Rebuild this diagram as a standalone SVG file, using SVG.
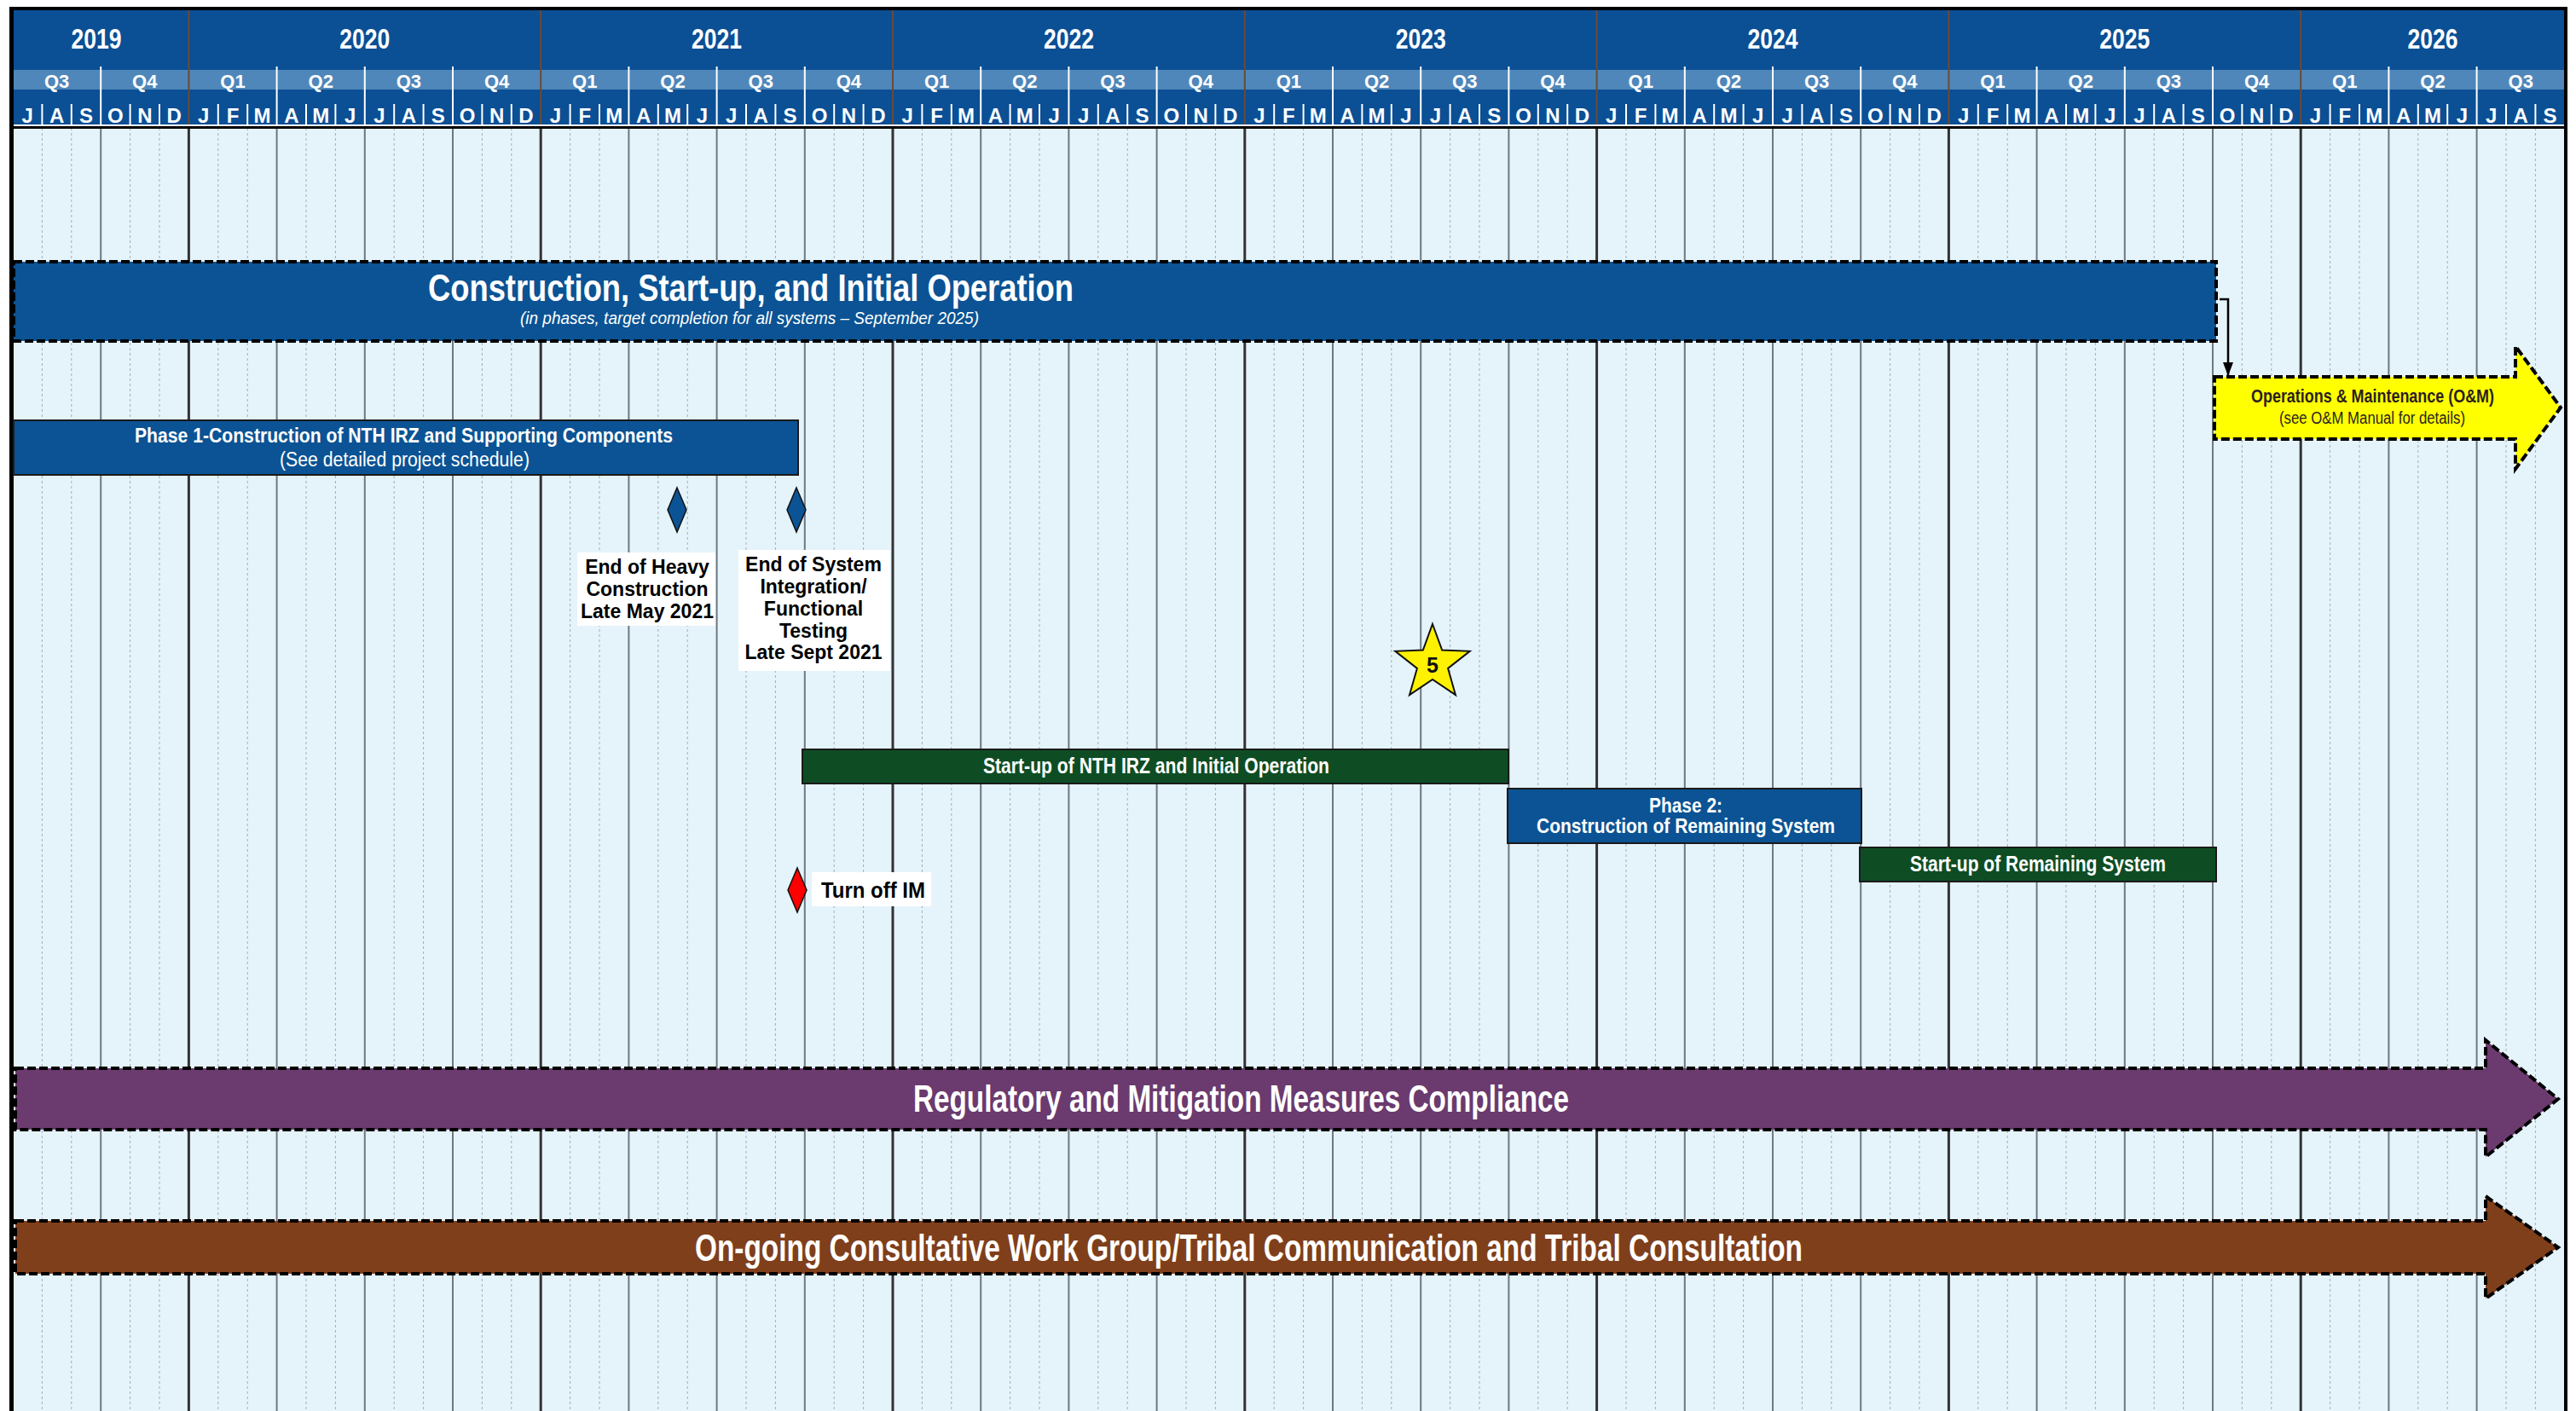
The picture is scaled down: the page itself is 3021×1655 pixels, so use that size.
<svg xmlns="http://www.w3.org/2000/svg" width="3021" height="1655" viewBox="0 0 3021 1655">
<defs>
<style>
.hdr{font-family:"Liberation Sans Narrow","Arial Narrow","Liberation Sans",Arial,sans-serif;font-weight:bold;fill:#fff;text-anchor:middle}
.yr{font-size:33px}
.qt{font-size:22px}
.mo{font-size:24px}
.nar{font-family:"Liberation Sans Narrow","Arial Narrow","Liberation Sans",Arial,sans-serif;text-anchor:middle}
.b{font-weight:bold}
.w{fill:#fff}
.lbl{font-family:"Liberation Sans",Arial,sans-serif;font-weight:bold;fill:#000;text-anchor:middle;font-size:23px}
.ml{stroke:#a3adb5;stroke-width:1;stroke-dasharray:3 3;fill:none}
.ql{stroke:#6f7880;stroke-width:2;fill:none}
.yl{stroke:#333;stroke-width:3;fill:none}
.hm{stroke:#fff;stroke-width:2;fill:none}
.hy{stroke:#6b4a35;stroke-width:2;fill:none}
.dash{stroke:#000;stroke-width:4;stroke-dasharray:10 4}
.bar{stroke:#1a1a1a;stroke-width:2}
.blue{fill:#0b5394}
.green{fill:#0e4d24}
</style>
<marker id="arr" viewBox="0 0 16 12" refX="16" refY="6" markerWidth="16" markerHeight="12" markerUnits="userSpaceOnUse" orient="auto">
<path d="M0 0 L16 6 L0 12 z" fill="#000"/>
</marker>
</defs>

<rect x="0" y="0" width="3021" height="1655" fill="#fff"/>
<!-- body background -->
<rect x="15" y="150" width="2993" height="1505" fill="#e5f3fb"/>

<!-- header -->
<g id="header">
<rect x="15" y="11" width="2993" height="135" fill="#0b4f95"/>
<rect x="15" y="82" width="2993" height="23" fill="#4f87ba"/>
<path class="hm" d="M49.4 122V146M83.8 122V146M152.6 122V146M187 122V146M255.8 122V146M290.2 122V146M359 122V146M393.4 122V146M462.2 122V146M496.6 122V146M565.4 122V146M599.8 122V146M668.6 122V146M703 122V146M771.8 122V146M806.2 122V146M875 122V146M909.4 122V146M978.2 122V146M1012.6 122V146M1081.4 122V146M1115.8 122V146M1184.6 122V146M1219 122V146M1287.8 122V146M1322.2 122V146M1391 122V146M1425.4 122V146M1494.2 122V146M1528.6 122V146M1597.4 122V146M1631.8 122V146M1700.6 122V146M1735 122V146M1803.8 122V146M1838.2 122V146M1907 122V146M1941.4 122V146M2010.2 122V146M2044.6 122V146M2113.4 122V146M2147.8 122V146M2216.6 122V146M2251 122V146M2319.8 122V146M2354.2 122V146M2423 122V146M2457.4 122V146M2526.2 122V146M2560.6 122V146M2629.4 122V146M2663.8 122V146M2732.6 122V146M2767 122V146M2835.8 122V146M2870.2 122V146M2939 122V146M2973.4 122V146"/>
<path class="hm" d="M118.2 78V146M324.6 78V146M427.8 78V146M531 78V146M737.4 78V146M840.6 78V146M943.8 78V146M1150.2 78V146M1253.4 78V146M1356.6 78V146M1563 78V146M1666.2 78V146M1769.4 78V146M1975.8 78V146M2079 78V146M2182.2 78V146M2388.6 78V146M2491.8 78V146M2595 78V146M2801.4 78V146M2904.6 78V146"/>
<path class="hy" d="M221.4 11V146M634.2 11V146M1047 11V146M1459.8 11V146M1872.6 11V146M2285.4 11V146M2698.2 11V146"/>

<text class="hdr yr" x="113" y="57" textLength="59" lengthAdjust="spacingAndGlyphs">2019</text>
<text class="hdr yr" x="427.8" y="57" textLength="59" lengthAdjust="spacingAndGlyphs">2020</text>
<text class="hdr yr" x="840.6" y="57" textLength="59" lengthAdjust="spacingAndGlyphs">2021</text>
<text class="hdr yr" x="1253.4" y="57" textLength="59" lengthAdjust="spacingAndGlyphs">2022</text>
<text class="hdr yr" x="1666.2" y="57" textLength="59" lengthAdjust="spacingAndGlyphs">2023</text>
<text class="hdr yr" x="2079" y="57" textLength="59" lengthAdjust="spacingAndGlyphs">2024</text>
<text class="hdr yr" x="2491.8" y="57" textLength="59" lengthAdjust="spacingAndGlyphs">2025</text>
<text class="hdr yr" x="2853" y="57" textLength="59" lengthAdjust="spacingAndGlyphs">2026</text>

<text class="hdr qt" x="66.6" y="103">Q3</text>
<text class="hdr qt" x="169.8" y="103">Q4</text>
<text class="hdr qt" x="273" y="103">Q1</text>
<text class="hdr qt" x="376.2" y="103">Q2</text>
<text class="hdr qt" x="479.4" y="103">Q3</text>
<text class="hdr qt" x="582.6" y="103">Q4</text>
<text class="hdr qt" x="685.8" y="103">Q1</text>
<text class="hdr qt" x="789" y="103">Q2</text>
<text class="hdr qt" x="892.2" y="103">Q3</text>
<text class="hdr qt" x="995.4" y="103">Q4</text>
<text class="hdr qt" x="1098.6" y="103">Q1</text>
<text class="hdr qt" x="1201.8" y="103">Q2</text>
<text class="hdr qt" x="1305" y="103">Q3</text>
<text class="hdr qt" x="1408.2" y="103">Q4</text>
<text class="hdr qt" x="1511.4" y="103">Q1</text>
<text class="hdr qt" x="1614.6" y="103">Q2</text>
<text class="hdr qt" x="1717.8" y="103">Q3</text>
<text class="hdr qt" x="1821" y="103">Q4</text>
<text class="hdr qt" x="1924.2" y="103">Q1</text>
<text class="hdr qt" x="2027.4" y="103">Q2</text>
<text class="hdr qt" x="2130.6" y="103">Q3</text>
<text class="hdr qt" x="2233.8" y="103">Q4</text>
<text class="hdr qt" x="2337" y="103">Q1</text>
<text class="hdr qt" x="2440.2" y="103">Q2</text>
<text class="hdr qt" x="2543.4" y="103">Q3</text>
<text class="hdr qt" x="2646.6" y="103">Q4</text>
<text class="hdr qt" x="2749.8" y="103">Q1</text>
<text class="hdr qt" x="2853" y="103">Q2</text>
<text class="hdr qt" x="2956.2" y="103">Q3</text>

<text class="hdr mo" x="32.2" y="144">J</text>
<text class="hdr mo" x="66.6" y="144">A</text>
<text class="hdr mo" x="101" y="144">S</text>
<text class="hdr mo" x="135.4" y="144">O</text>
<text class="hdr mo" x="169.8" y="144">N</text>
<text class="hdr mo" x="204.2" y="144">D</text>
<text class="hdr mo" x="238.6" y="144">J</text>
<text class="hdr mo" x="273" y="144">F</text>
<text class="hdr mo" x="307.4" y="144">M</text>
<text class="hdr mo" x="341.8" y="144">A</text>
<text class="hdr mo" x="376.2" y="144">M</text>
<text class="hdr mo" x="410.6" y="144">J</text>
<text class="hdr mo" x="445" y="144">J</text>
<text class="hdr mo" x="479.4" y="144">A</text>
<text class="hdr mo" x="513.8" y="144">S</text>
<text class="hdr mo" x="548.2" y="144">O</text>
<text class="hdr mo" x="582.6" y="144">N</text>
<text class="hdr mo" x="617" y="144">D</text>
<text class="hdr mo" x="651.4" y="144">J</text>
<text class="hdr mo" x="685.8" y="144">F</text>
<text class="hdr mo" x="720.2" y="144">M</text>
<text class="hdr mo" x="754.6" y="144">A</text>
<text class="hdr mo" x="789" y="144">M</text>
<text class="hdr mo" x="823.4" y="144">J</text>
<text class="hdr mo" x="857.8" y="144">J</text>
<text class="hdr mo" x="892.2" y="144">A</text>
<text class="hdr mo" x="926.6" y="144">S</text>
<text class="hdr mo" x="961" y="144">O</text>
<text class="hdr mo" x="995.4" y="144">N</text>
<text class="hdr mo" x="1029.8" y="144">D</text>
<text class="hdr mo" x="1064.2" y="144">J</text>
<text class="hdr mo" x="1098.6" y="144">F</text>
<text class="hdr mo" x="1133" y="144">M</text>
<text class="hdr mo" x="1167.4" y="144">A</text>
<text class="hdr mo" x="1201.8" y="144">M</text>
<text class="hdr mo" x="1236.2" y="144">J</text>
<text class="hdr mo" x="1270.6" y="144">J</text>
<text class="hdr mo" x="1305" y="144">A</text>
<text class="hdr mo" x="1339.4" y="144">S</text>
<text class="hdr mo" x="1373.8" y="144">O</text>
<text class="hdr mo" x="1408.2" y="144">N</text>
<text class="hdr mo" x="1442.6" y="144">D</text>
<text class="hdr mo" x="1477" y="144">J</text>
<text class="hdr mo" x="1511.4" y="144">F</text>
<text class="hdr mo" x="1545.8" y="144">M</text>
<text class="hdr mo" x="1580.2" y="144">A</text>
<text class="hdr mo" x="1614.6" y="144">M</text>
<text class="hdr mo" x="1649" y="144">J</text>
<text class="hdr mo" x="1683.4" y="144">J</text>
<text class="hdr mo" x="1717.8" y="144">A</text>
<text class="hdr mo" x="1752.2" y="144">S</text>
<text class="hdr mo" x="1786.6" y="144">O</text>
<text class="hdr mo" x="1821" y="144">N</text>
<text class="hdr mo" x="1855.4" y="144">D</text>
<text class="hdr mo" x="1889.8" y="144">J</text>
<text class="hdr mo" x="1924.2" y="144">F</text>
<text class="hdr mo" x="1958.6" y="144">M</text>
<text class="hdr mo" x="1993" y="144">A</text>
<text class="hdr mo" x="2027.4" y="144">M</text>
<text class="hdr mo" x="2061.8" y="144">J</text>
<text class="hdr mo" x="2096.2" y="144">J</text>
<text class="hdr mo" x="2130.6" y="144">A</text>
<text class="hdr mo" x="2165" y="144">S</text>
<text class="hdr mo" x="2199.4" y="144">O</text>
<text class="hdr mo" x="2233.8" y="144">N</text>
<text class="hdr mo" x="2268.2" y="144">D</text>
<text class="hdr mo" x="2302.6" y="144">J</text>
<text class="hdr mo" x="2337" y="144">F</text>
<text class="hdr mo" x="2371.4" y="144">M</text>
<text class="hdr mo" x="2405.8" y="144">A</text>
<text class="hdr mo" x="2440.2" y="144">M</text>
<text class="hdr mo" x="2474.6" y="144">J</text>
<text class="hdr mo" x="2509" y="144">J</text>
<text class="hdr mo" x="2543.4" y="144">A</text>
<text class="hdr mo" x="2577.8" y="144">S</text>
<text class="hdr mo" x="2612.2" y="144">O</text>
<text class="hdr mo" x="2646.6" y="144">N</text>
<text class="hdr mo" x="2681" y="144">D</text>
<text class="hdr mo" x="2715.4" y="144">J</text>
<text class="hdr mo" x="2749.8" y="144">F</text>
<text class="hdr mo" x="2784.2" y="144">M</text>
<text class="hdr mo" x="2818.6" y="144">A</text>
<text class="hdr mo" x="2853" y="144">M</text>
<text class="hdr mo" x="2887.4" y="144">J</text>
<text class="hdr mo" x="2921.8" y="144">J</text>
<text class="hdr mo" x="2956.2" y="144">A</text>
<text class="hdr mo" x="2990.6" y="144">S</text>
</g>

<!-- grid -->
<g id="grid">
<path class="ml" d="M49.4 150V1655M83.8 150V1655M152.6 150V1655M187 150V1655M255.8 150V1655M290.2 150V1655M359 150V1655M393.4 150V1655M462.2 150V1655M496.6 150V1655M565.4 150V1655M599.8 150V1655M668.6 150V1655M703 150V1655M771.8 150V1655M806.2 150V1655M875 150V1655M909.4 150V1655M978.2 150V1655M1012.6 150V1655M1081.4 150V1655M1115.8 150V1655M1184.6 150V1655M1219 150V1655M1287.8 150V1655M1322.2 150V1655M1391 150V1655M1425.4 150V1655M1494.2 150V1655M1528.6 150V1655M1597.4 150V1655M1631.8 150V1655M1700.6 150V1655M1735 150V1655M1803.8 150V1655M1838.2 150V1655M1907 150V1655M1941.4 150V1655M2010.2 150V1655M2044.6 150V1655M2113.4 150V1655M2147.8 150V1655M2216.6 150V1655M2251 150V1655M2319.8 150V1655M2354.2 150V1655M2423 150V1655M2457.4 150V1655M2526.2 150V1655M2560.6 150V1655M2629.4 150V1655M2663.8 150V1655M2732.6 150V1655M2767 150V1655M2835.8 150V1655M2870.2 150V1655M2939 150V1655M2973.4 150V1655"/>
<path class="ql" d="M118.2 150V1655M324.6 150V1655M427.8 150V1655M531 150V1655M737.4 150V1655M840.6 150V1655M943.8 150V1655M1150.2 150V1655M1253.4 150V1655M1356.6 150V1655M1563 150V1655M1666.2 150V1655M1769.4 150V1655M1975.8 150V1655M2079 150V1655M2182.2 150V1655M2388.6 150V1655M2491.8 150V1655M2595 150V1655M2801.4 150V1655M2904.6 150V1655"/>
<path class="yl" d="M221.4 150V1655M634.2 150V1655M1047 150V1655M1459.8 150V1655M1872.6 150V1655M2285.4 150V1655M2698.2 150V1655"/>
</g>

<!-- frame -->
<g id="frame">
<rect x="13" y="148" width="2996" height="3" fill="#000"/>
<rect x="11" y="8" width="3000" height="4" fill="#000"/>
<rect x="11" y="8" width="5" height="1647" fill="#000"/>
<rect x="3007" y="8" width="4" height="1647" fill="#000"/>
</g>

<!-- connectors -->
<g id="connectors">
<path d="M2603 351 H2613 V441" fill="none" stroke="#000" stroke-width="2.5" marker-end="url(#arr)"/>
</g>

<g id="construction">
<rect class="blue dash" x="16" y="307" width="2583" height="93"/>
<text class="nar b w" x="880.5" y="353" font-size="45" textLength="757" lengthAdjust="spacingAndGlyphs">Construction, Start-up, and Initial Operation</text>
<text class="nar w" x="879" y="380" font-size="21" font-style="italic" textLength="538" lengthAdjust="spacingAndGlyphs">(in phases, target completion for all systems – September 2025)</text>
</g>

<g id="om">
<polygon points="2597,442 2950,442 2950,406 3003,478 2950,550 2950,515 2597,515" fill="#ffff00" class="dash"/>
<text class="nar b" x="2782.5" y="472" font-size="22" fill="#2b1f1f" textLength="285" lengthAdjust="spacingAndGlyphs">Operations &amp; Maintenance (O&amp;M)</text>
<text class="nar" x="2782" y="497" font-size="20" fill="#2b1f1f" textLength="218" lengthAdjust="spacingAndGlyphs">(see O&amp;M Manual for details)</text>
</g>

<g id="phase1">
<rect class="blue bar" x="16" y="493" width="920" height="64"/>
<text class="nar b w" x="473.5" y="519" font-size="23" textLength="631" lengthAdjust="spacingAndGlyphs">Phase 1-Construction of NTH IRZ and Supporting Components</text>
<text class="nar w" x="474.5" y="547" font-size="23" textLength="293" lengthAdjust="spacingAndGlyphs">(See detailed project schedule)</text>
</g>

<g id="milestone-heavy">
<polygon points="794,572 805,598 794,624 783,598" fill="#0b5394" stroke="#111" stroke-width="1.5"/>
<rect x="677" y="648" width="162" height="86" fill="#fff"/>
<text class="lbl" x="759" y="673">End of Heavy</text>
<text class="lbl" x="759" y="699">Construction</text>
<text class="lbl" x="759" y="725">Late May 2021</text>
</g>

<g id="milestone-integration">
<polygon points="934,572 945,598 934,624 923,598" fill="#0b5394" stroke="#111" stroke-width="1.5"/>
<rect x="866" y="645" width="178" height="142" fill="#fff"/>
<text class="lbl" x="954" y="670">End of System</text>
<text class="lbl" x="954" y="696">Integration/</text>
<text class="lbl" x="954" y="722">Functional</text>
<text class="lbl" x="954" y="748">Testing</text>
<text class="lbl" x="954" y="773">Late Sept 2021</text>
</g>

<g id="star5">
<polygon points="1680,732 1691.2,762.6 1723.7,763.8 1698.1,783.9 1707,815.2 1680,797 1653,815.2 1661.9,783.9 1636.3,763.8 1668.8,762.6" fill="#fff200" stroke="#111" stroke-width="2"/>
<text class="nar b" x="1680" y="789" font-size="25" fill="#111">5</text>
</g>

<g id="startup-nth">
<rect class="green bar" x="941" y="879" width="828" height="40"/>
<text class="nar b w" x="1356" y="907" font-size="25" textLength="406" lengthAdjust="spacingAndGlyphs">Start-up of NTH IRZ and Initial Operation</text>
</g>

<g id="phase2">
<rect class="blue bar" x="1768" y="925" width="415" height="64"/>
<text class="nar b w" x="1977" y="953" font-size="24" textLength="86" lengthAdjust="spacingAndGlyphs">Phase 2:</text>
<text class="nar b w" x="1977" y="977" font-size="24" textLength="350" lengthAdjust="spacingAndGlyphs">Construction of Remaining System</text>
</g>

<g id="startup-remaining">
<rect class="green bar" x="2181" y="994" width="418" height="40"/>
<text class="nar b w" x="2390" y="1022" font-size="25" textLength="300" lengthAdjust="spacingAndGlyphs">Start-up of Remaining System</text>
</g>

<g id="turn-off-im">
<rect x="952" y="1023" width="140" height="40" fill="#fff"/>
<polygon points="935,1018 946,1044 935,1070 924,1044" fill="#ff0000" stroke="#111" stroke-width="1.5"/>
<text x="963" y="1053" font-family="Liberation Sans, Arial, sans-serif" font-weight="bold" font-size="25" fill="#000" textLength="122" lengthAdjust="spacingAndGlyphs">Turn off IM</text>
</g>

<g id="regulatory">
<polygon points="18,1253 2915,1253 2915,1220 3000,1289 2915,1357 2915,1325 18,1325" fill="#6b3a6e" class="dash"/>
<text class="nar b w" x="1455.5" y="1304" font-size="44" textLength="769" lengthAdjust="spacingAndGlyphs">Regulatory and Mitigation Measures Compliance</text>
</g>

<g id="consultation">
<polygon points="18,1432 2915,1432 2915,1403 3000,1463 2915,1523 2915,1494 18,1494" fill="#7f3f1b" class="dash"/>
<text class="nar b w" x="1464.5" y="1479" font-size="44" textLength="1299" lengthAdjust="spacingAndGlyphs">On-going Consultative Work Group/Tribal Communication and Tribal Consultation</text>
</g>
</svg>
